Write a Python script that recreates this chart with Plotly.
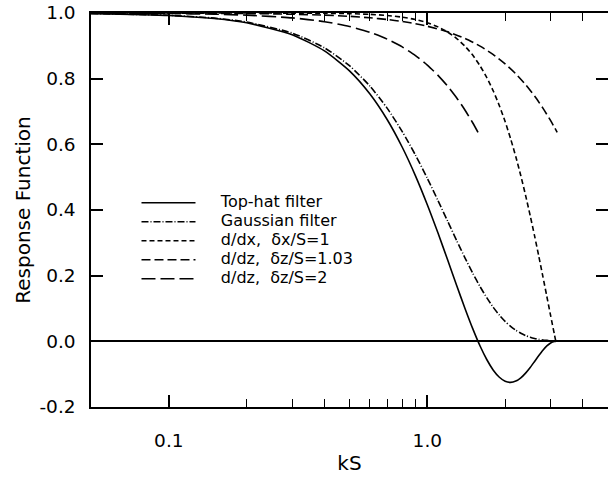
import plotly.graph_objects as go

# kS sample points
k_full = [0.05, 0.1, 0.15, 0.2, 0.3, 0.4, 0.5, 0.6, 0.7, 0.8, 0.9, 1.0, 1.1, 1.2, 1.3, 1.4,
          1.5, 1.6, 1.7, 1.8, 1.9, 2.0, 2.1, 2.2, 2.3, 2.4, 2.5, 2.6, 2.7, 2.8, 2.9, 3.0, 3.1, 3.1416]

tophat = [0.998, 0.9925, 0.9832, 0.9703, 0.934, 0.8847, 0.8239, 0.7533, 0.6749, 0.5911, 0.504,
          0.4161, 0.3297, 0.2468, 0.1695, 0.0994, 0.0379, -0.0142, -0.0561, -0.0878, -0.1094,
          -0.1215, -0.125, -0.1211, -0.1112, -0.0968, -0.0797, -0.0613, -0.0434, -0.0272,
          -0.0141, -0.005, -0.0004, 0.0]

gaussian = [0.9983, 0.993, 0.9844, 0.9724, 0.9389, 0.894, 0.8395, 0.7772, 0.7096, 0.6389,
            0.5672, 0.4966, 0.4287, 0.365, 0.3064, 0.2536, 0.207, 0.1666, 0.1323, 0.1035,
            0.0799, 0.0608, 0.0456, 0.0338, 0.0247, 0.0177, 0.0126, 0.0088, 0.0061, 0.0041,
            0.0028, 0.0018, 0.0012, 0.0]

ddx = [1.0, 1.0, 1.0, 0.99995, 0.9997, 0.99915, 0.998, 0.9959, 0.9925, 0.9873, 0.9801, 0.9704,
       0.9578, 0.9418, 0.9222, 0.8986, 0.871, 0.8391, 0.8028, 0.7623, 0.7177, 0.6693, 0.6172,
       0.5621, 0.5043, 0.4444, 0.3831, 0.321, 0.2588, 0.1971, 0.1367, 0.0782, 0.0224, 0.0]

k_dz1 = [0.05, 0.1, 0.2, 0.3, 0.4, 0.5, 0.6, 0.7, 0.8, 0.9, 1.0, 1.2, 1.4, 1.6, 1.8, 2.0, 2.2,
         2.4, 2.6, 2.8, 3.0, 3.18]
dz1 = [0.9999, 0.9996, 0.9984, 0.9963, 0.9935, 0.9899, 0.9854, 0.9802, 0.9742, 0.9674, 0.9598,
       0.9425, 0.9222, 0.8992, 0.8734, 0.8452, 0.8147, 0.7818, 0.7469, 0.7102, 0.672, 0.6366]

k_dz2 = [0.05, 0.1, 0.15, 0.2, 0.3, 0.4, 0.5, 0.6, 0.7, 0.8, 0.9, 1.0, 1.1, 1.2, 1.3, 1.4, 1.5,
         1.5708]
dz2 = [0.9996, 0.9983, 0.9963, 0.9934, 0.9851, 0.9736, 0.9589, 0.9411, 0.9203, 0.8967, 0.8704,
       0.8415, 0.8102, 0.7767, 0.7412, 0.7039, 0.665, 0.6366]

names = ["Top-hat filter", "Gaussian filter", "d/dx,  δx/S=1", "d/dz,  δz/S=1.03",
         "d/dz,  δz/S=2"]
dashes = ["solid", "7px,2px,1px,2px", "5px,3px", "9px,4px", "14px,5px"]

x_tickvals = [0.1, 1.0]
x_ticktext = ["0.1", "1.0"]
x_minor = [0.2, 0.3, 0.4, 0.5, 0.6, 0.7, 0.8, 0.9, 2, 3, 4]
y_tickvals = [-0.2, 0.0, 0.2, 0.4, 0.6, 0.8, 1.0]
y_ticktext = ["-0.2", "0.0", "0.2", "0.4", "0.6", "0.8", "1.0"]

FONT = "DejaVu Sans, Liberation Sans, Arial, sans-serif"
PAD = "\u00a0" * 4

fig = go.Figure()
series = [(k_full, tophat), (k_full, gaussian), (k_full, ddx), (k_dz1, dz1), (k_dz2, dz2)]
for (xs, ys), nm, ds in zip(series, names, dashes):
    label = PAD + nm.replace(" ", "\u00a0")
    fig.add_trace(go.Scatter(
        x=xs, y=ys, mode="lines",
        name="<span style='font-size:16px'>" + label + "</span>",
        line=dict(color="black", width=1.6, dash=ds, shape="spline", smoothing=0.6)))

fig.update_layout(
    width=608, height=480,
    margin=dict(l=91, r=0, t=13, b=73),
    paper_bgcolor="white", plot_bgcolor="white",
    font=dict(family=FONT, size=18.5, color="black"),
    showlegend=True,
    legend=dict(x=0.088, y=0.422, xanchor="left", yanchor="middle", bgcolor="rgba(0,0,0,0)",
                font=dict(size=10), itemwidth=54, tracegroupgap=0),
)
fig.update_xaxes(
    type="log", range=[-1.301, 0.699], automargin=False,
    showline=True, linecolor="black", linewidth=1.5, mirror="ticks",
    showgrid=False, zeroline=False,
    ticks="inside", ticklen=12, tickwidth=1.5, tickcolor="black",
    tickvals=x_tickvals, ticktext=x_ticktext, ticklabelstandoff=16,
    minor=dict(ticks="inside", ticklen=8, tickwidth=1.2, tickcolor="black",
               tickvals=x_minor, showgrid=False),
    title=dict(text="kS", font=dict(size=20), standoff=6),
)
fig.update_yaxes(
    range=[-0.2, 1.0], automargin=False,
    showline=True, linecolor="black", linewidth=1.5, mirror="ticks",
    showgrid=False,
    zeroline=True, zerolinecolor="black", zerolinewidth=1.5,
    ticks="inside", ticklen=12, tickwidth=1.5, tickcolor="black",
    tickvals=y_tickvals, ticktext=y_ticktext, ticklabelstandoff=10,
    title=dict(text="Response Function", font=dict(size=20), standoff=3),
)

fig.write_html("out.html", config={"displayModeBar": False},
               post_script="document.body.style.margin='0px';")
